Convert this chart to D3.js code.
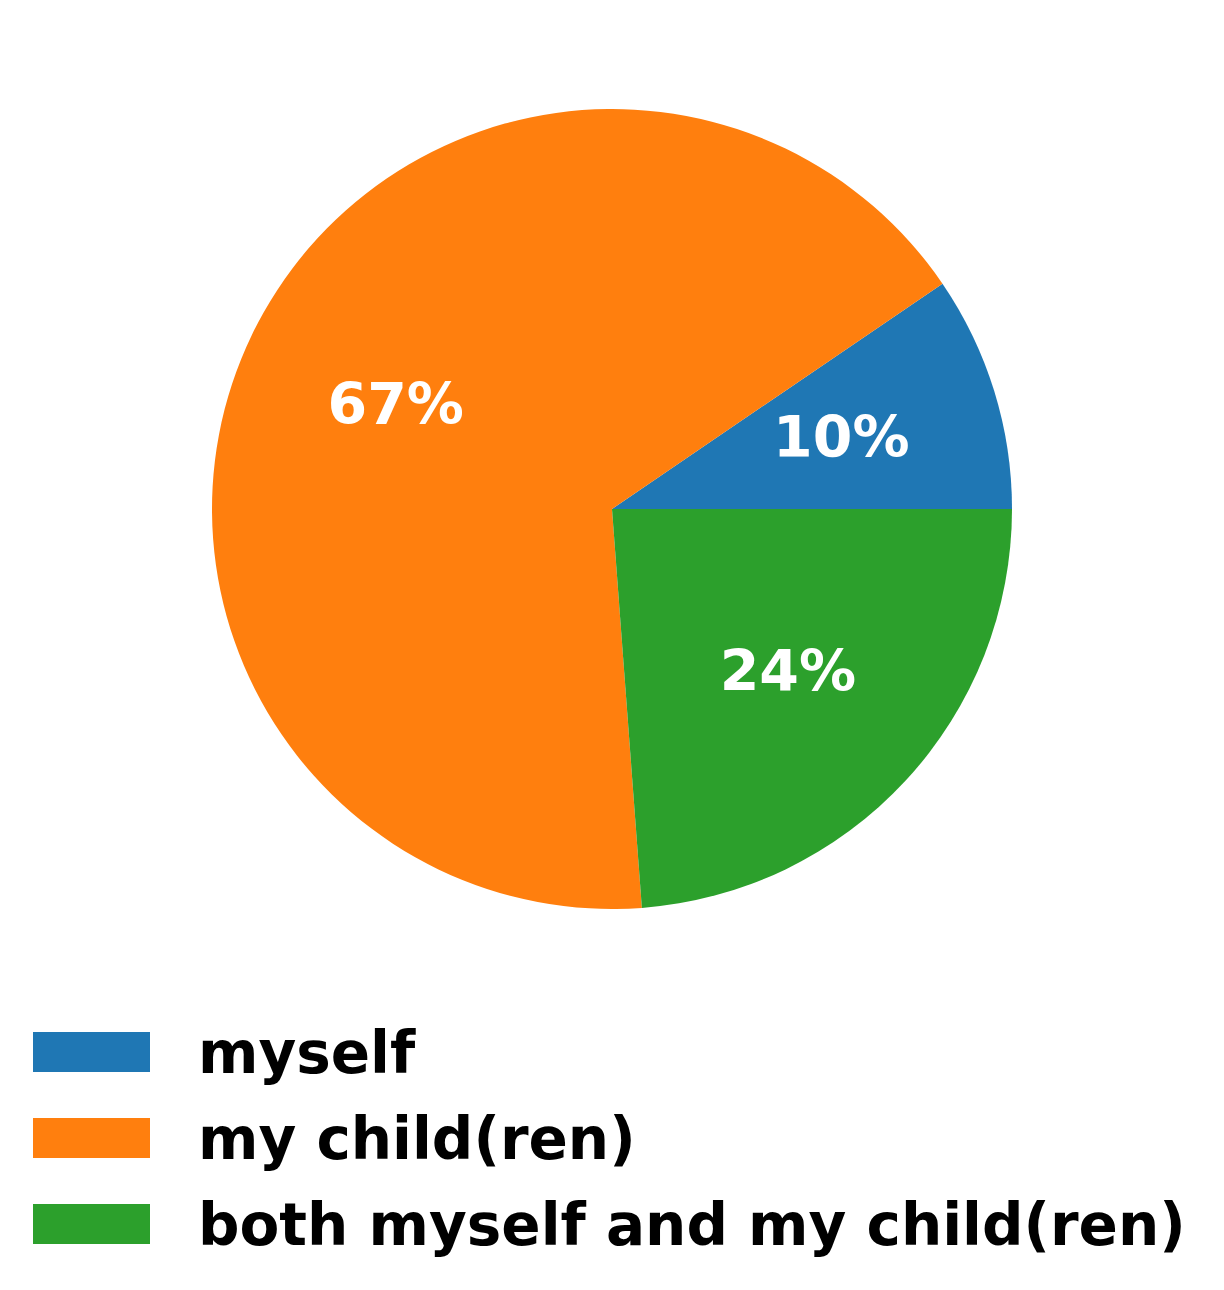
<!DOCTYPE html>
<html>
<head>
<meta charset="utf-8">
<script src="https://cdn.jsdelivr.net/npm/d3@7"></script>
<style>
  body { margin: 0; background: #fff; }
  svg text { font-family: "DejaVu Sans", sans-serif; font-weight: bold; }
</style>
</head>
<body>
<div id="chart"></div>
<script>
// answers: who the respondent is answering for
const categories = ["myself", "my child(ren)", "both myself and my child(ren)"];
const counts = [2, 14, 5];
const colors = ["#1f77b4", "#ff7f0e", "#2ca02c"];

const width = 1224, height = 1290;
const cx = 612, cy = 509, radius = 400;

const svg = d3.select("#chart").append("svg")
    .attr("width", width)
    .attr("height", height);

// matplotlib style: start at 3 o'clock and go counterclockwise
const pie = d3.pie()
    .sort(null)
    .value(d => d)
    .startAngle(Math.PI / 2)
    .endAngle(Math.PI / 2 - 2 * Math.PI);

const arcs = pie(counts);
const arc = d3.arc().innerRadius(0).outerRadius(radius);
const labelArc = d3.arc().innerRadius(radius * 0.6).outerRadius(radius * 0.6);
const total = d3.sum(counts);

const g = svg.append("g").attr("transform", `translate(${cx}, ${cy})`);

g.selectAll("path")
    .data(arcs)
    .enter()
    .append("path")
    .attr("d", arc)
    .attr("fill", (d, i) => colors[i]);

g.selectAll(".pct")
    .data(arcs)
    .enter()
    .append("text")
    .attr("class", "pct")
    .attr("transform", d => `translate(${labelArc.centroid(d)})`)
    .attr("text-anchor", "middle")
    .attr("dy", "0.33em")
    .attr("fill", "white")
    .style("font-size", "57px")
    .text(d => Math.round(100 * d.value / total) + "%");

// legend
const legend = svg.append("g").attr("transform", "translate(33, 1032)");
const rows = legend.selectAll(".row")
    .data(categories)
    .enter()
    .append("g")
    .attr("transform", (d, i) => `translate(0, ${i * 86})`);

rows.append("rect")
    .attr("width", 117)
    .attr("height", 40)
    .attr("fill", (d, i) => colors[i]);

rows.append("text")
    .attr("x", 165)
    .attr("y", 41)
    .attr("fill", "black")
    .style("font-size", "58px")
    .text(d => d);
</script>
</body>
</html>
